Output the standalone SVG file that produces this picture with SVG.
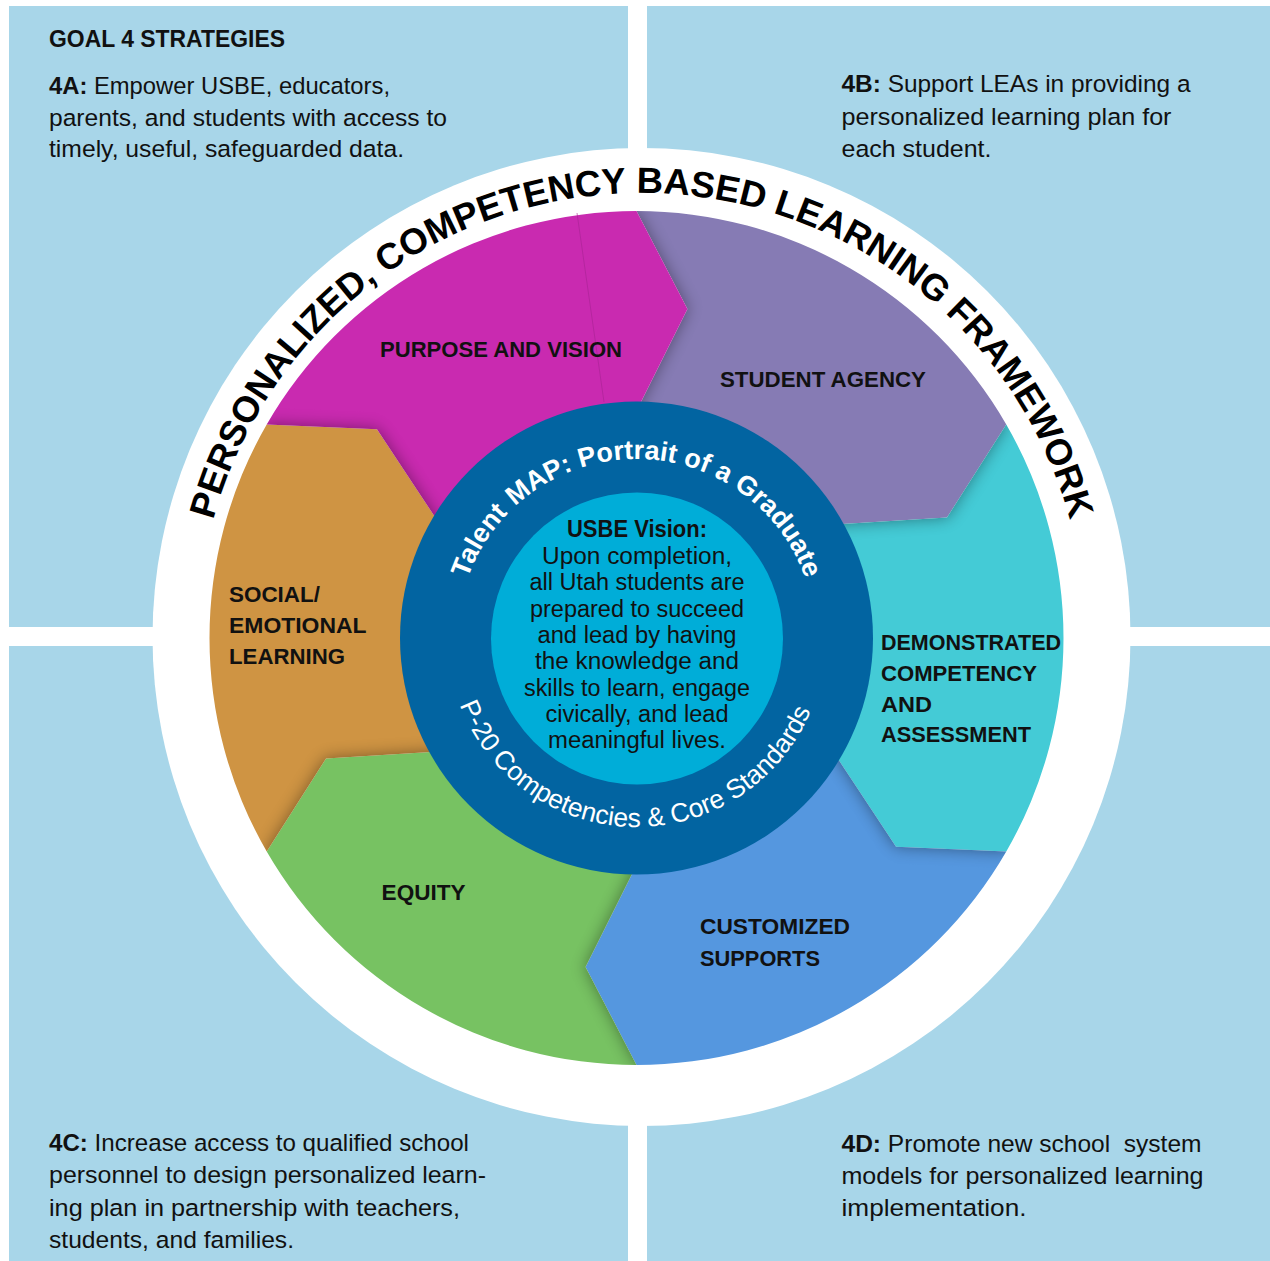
<svg xmlns="http://www.w3.org/2000/svg" width="1270" height="1261" viewBox="0 0 1270 1261">
<style>
.q{fill:#A8D6E9}
.qt{font-family:"Liberation Sans",Arial,sans-serif;font-size:24.5px;fill:#111}
.b{font-weight:bold}
.lbl{font-family:"Liberation Sans",Arial,sans-serif;font-size:22.5px;font-weight:bold;fill:#111}
.ct{font-family:"Liberation Sans",Arial,sans-serif;font-size:23.5px;fill:#111;text-anchor:middle}
.ttl{font-family:"Liberation Sans",Arial,sans-serif;font-size:36.5px;font-weight:bold;fill:#000}
.tal{font-family:"Liberation Sans",Arial,sans-serif;font-size:27px;font-weight:bold;fill:#fff}
.p20{font-family:"Liberation Sans",Arial,sans-serif;font-size:26.5px;fill:#fff}
.shadow{fill:#000;opacity:0.4}
</style>
<defs>
<path id="seg" d="M427,0 A427,427 0 0 1 213.5,369.79 L120.42,310.47 L112.58,181.99 A214,214 0 0 0 213.9,-6.5 L329.08,50.95 Z"/>
<clipPath id="segclip"><use href="#seg"/></clipPath>
<filter id="blur" x="-20%" y="-20%" width="140%" height="140%"><feGaussianBlur stdDeviation="8"/></filter>
<path id="titlePath" d="M212.63,522.08 A444,444 0 0 1 1070.37,522.08" fill="none"/>
<path id="talentPath" d="M467.25,579.72 A179,179 0 0 1 805.75,579.72" fill="none"/>
<path id="p20Path" d="M457.8,699.53 A189,189 0 0 0 812.95,705.73" fill="none"/>
</defs>

<rect width="1270" height="1261" fill="#fff"/>

<g id="quadrants">
<rect class="q" x="9" y="6" width="619" height="621"/>
<rect class="q" x="647" y="6" width="623" height="621"/>
<rect class="q" x="9" y="646" width="619" height="615"/>
<rect class="q" x="647" y="646" width="623" height="615"/>
</g>

<g id="strategy-4a">
<text class="qt b" x="49" y="47" textLength="236" lengthAdjust="spacingAndGlyphs">GOAL 4 STRATEGIES</text>
<text class="qt" x="49" y="94" textLength="341" lengthAdjust="spacingAndGlyphs"><tspan class="b">4A:</tspan> Empower USBE, educators,</text>
<text class="qt" x="49" y="125.7" textLength="398" lengthAdjust="spacingAndGlyphs">parents, and students with access to</text>
<text class="qt" x="49" y="157" textLength="355" lengthAdjust="spacingAndGlyphs">timely, useful, safeguarded data.</text>
</g>
<g id="strategy-4b">
<text class="qt" x="841.5" y="92" textLength="349" lengthAdjust="spacingAndGlyphs"><tspan class="b">4B:</tspan> Support LEAs in providing a</text>
<text class="qt" x="841.5" y="124.5" textLength="330" lengthAdjust="spacingAndGlyphs">personalized learning plan for</text>
<text class="qt" x="841.5" y="157" textLength="150" lengthAdjust="spacingAndGlyphs">each student.</text>
</g>
<g id="strategy-4c">
<text class="qt" x="49" y="1150.5" textLength="420" lengthAdjust="spacingAndGlyphs"><tspan class="b">4C:</tspan> Increase access to qualified school</text>
<text class="qt" x="49" y="1183" textLength="437" lengthAdjust="spacingAndGlyphs">personnel to design personalized learn-</text>
<text class="qt" x="49" y="1215.5" textLength="411" lengthAdjust="spacingAndGlyphs">ing plan in partnership with teachers,</text>
<text class="qt" x="49" y="1248" textLength="245" lengthAdjust="spacingAndGlyphs">students, and families.</text>
</g>
<g id="strategy-4d">
<text class="qt" x="841.5" y="1151.5" textLength="360" lengthAdjust="spacingAndGlyphs" xml:space="preserve"><tspan class="b">4D:</tspan> Promote new school  system</text>
<text class="qt" x="841.5" y="1184" textLength="362" lengthAdjust="spacingAndGlyphs">models for personalized learning</text>
<text class="qt" x="841.5" y="1216" textLength="185" lengthAdjust="spacingAndGlyphs">implementation.</text>
</g>

<g id="framework-ring">
<circle cx="641.5" cy="637" r="489" fill="#fff"/>
<text class="ttl"><textPath href="#titlePath" startOffset="2.25">PERSONALIZED,</textPath></text>
<text class="ttl"><textPath href="#titlePath" startOffset="308.5">COMPETENCY</textPath></text>
<text class="ttl"><textPath href="#titlePath" startOffset="576.2">BASED</textPath></text>
<text class="ttl"><textPath href="#titlePath" startOffset="714.1">LEARNING</textPath></text>
<text class="ttl"><textPath href="#titlePath" startOffset="914.8">FRAMEWORK</textPath></text>
</g>

<g id="seg-student-agency">
<g transform="translate(636.5 638) rotate(-90)">
<use href="#seg" fill="#867BB4"/>
<g clip-path="url(#segclip)"><use href="#seg" class="shadow" transform="rotate(-60)" filter="url(#blur)"/></g>
</g>
<text class="lbl" x="720" y="387.3" textLength="206" lengthAdjust="spacingAndGlyphs">STUDENT AGENCY</text>
</g>

<g id="seg-demonstrated-competency">
<g transform="translate(636.5 638) rotate(-30)">
<use href="#seg" fill="#44CBD6"/>
<g clip-path="url(#segclip)"><use href="#seg" class="shadow" transform="rotate(-60)" filter="url(#blur)"/></g>
</g>
<text class="lbl" x="881" y="649.5" textLength="180" lengthAdjust="spacingAndGlyphs">DEMONSTRATED</text>
<text class="lbl" x="881" y="680.5" textLength="156" lengthAdjust="spacingAndGlyphs">COMPETENCY</text>
<text class="lbl" x="881" y="711.5" textLength="51" lengthAdjust="spacingAndGlyphs">AND</text>
<text class="lbl" x="881" y="742" textLength="150" lengthAdjust="spacingAndGlyphs">ASSESSMENT</text>
</g>

<g id="seg-customized-supports">
<g transform="translate(636.5 638) rotate(30)">
<use href="#seg" fill="#5597DF"/>
<g clip-path="url(#segclip)"><use href="#seg" class="shadow" transform="rotate(-60)" filter="url(#blur)"/></g>
</g>
<text class="lbl" x="700" y="934" textLength="150" lengthAdjust="spacingAndGlyphs">CUSTOMIZED</text>
<text class="lbl" x="700" y="965.5" textLength="120" lengthAdjust="spacingAndGlyphs">SUPPORTS</text>
</g>

<g id="seg-equity">
<g transform="translate(636.5 638) rotate(90)">
<use href="#seg" fill="#77C262"/>
<g clip-path="url(#segclip)"><use href="#seg" class="shadow" transform="rotate(-60)" filter="url(#blur)"/></g>
</g>
<text class="lbl" x="381.6" y="900" textLength="84" lengthAdjust="spacingAndGlyphs">EQUITY</text>
</g>

<g id="seg-social-emotional">
<g transform="translate(636.5 638) rotate(150)">
<use href="#seg" fill="#CF9443"/>
<g clip-path="url(#segclip)"><use href="#seg" class="shadow" transform="rotate(-60)" filter="url(#blur)"/></g>
</g>
<text class="lbl" x="229" y="602" textLength="91" lengthAdjust="spacingAndGlyphs">SOCIAL/</text>
<text class="lbl" x="229" y="633" textLength="137.5" lengthAdjust="spacingAndGlyphs">EMOTIONAL</text>
<text class="lbl" x="229" y="664" textLength="116" lengthAdjust="spacingAndGlyphs">LEARNING</text>
</g>

<g id="seg-purpose-vision">
<g transform="translate(636.5 638) rotate(210)">
<use href="#seg" fill="#C92AB0"/>
<g clip-path="url(#segclip)"><use href="#seg" class="shadow" transform="rotate(-60)" filter="url(#blur)"/></g>
</g>
<line x1="577" y1="213" x2="604" y2="402" stroke="#A82394" stroke-width="1" opacity="0.6"/>
<text class="lbl" x="380" y="357" textLength="242" lengthAdjust="spacingAndGlyphs">PURPOSE AND VISION</text>
</g>

<g id="talent-map">
<circle cx="636.5" cy="638" r="236.5" fill="#0264A1"/>
<text class="tal"><textPath href="#talentPath" startOffset="1.25">Talent</textPath></text>
<text class="tal"><textPath href="#talentPath" startOffset="88.27">MAP:</textPath></text>
<text class="tal"><textPath href="#talentPath" startOffset="164.76">Portrait</textPath></text>
<text class="tal"><textPath href="#talentPath" startOffset="268.28">of a</textPath></text>
<text class="tal"><textPath href="#talentPath" startOffset="323.79">Graduate</textPath></text>
<text class="p20"><textPath href="#p20Path" startOffset="5.55">P-20</textPath></text>
<text class="p20"><textPath href="#p20Path" startOffset="68.89">Competencies</textPath></text>
<text class="p20"><textPath href="#p20Path" startOffset="245.61">&amp;</textPath></text>
<text class="p20"><textPath href="#p20Path" startOffset="270.66">Core</textPath></text>
<text class="p20"><textPath href="#p20Path" startOffset="335.45">Standards</textPath></text>
</g>

<g id="usbe-vision">
<circle cx="637" cy="638.5" r="146" fill="#00ADD8"/>
<text class="ct b" x="637" y="537" font-size="22.5" textLength="140" lengthAdjust="spacingAndGlyphs">USBE Vision:</text>
<text class="ct" x="637" y="564" textLength="190" lengthAdjust="spacingAndGlyphs">Upon completion,</text>
<text class="ct" x="637" y="590" textLength="215" lengthAdjust="spacingAndGlyphs">all Utah students are</text>
<text class="ct" x="637" y="616.5" textLength="214" lengthAdjust="spacingAndGlyphs">prepared to succeed</text>
<text class="ct" x="637" y="643" textLength="199" lengthAdjust="spacingAndGlyphs">and lead by having</text>
<text class="ct" x="637" y="669" textLength="204" lengthAdjust="spacingAndGlyphs">the knowledge and</text>
<text class="ct" x="637" y="695.5" textLength="226" lengthAdjust="spacingAndGlyphs">skills to learn, engage</text>
<text class="ct" x="637" y="721.5" textLength="183" lengthAdjust="spacingAndGlyphs">civically, and lead</text>
<text class="ct" x="637" y="748" textLength="178" lengthAdjust="spacingAndGlyphs">meaningful lives.</text>
</g>

<g id="connectors"/>
</svg>
